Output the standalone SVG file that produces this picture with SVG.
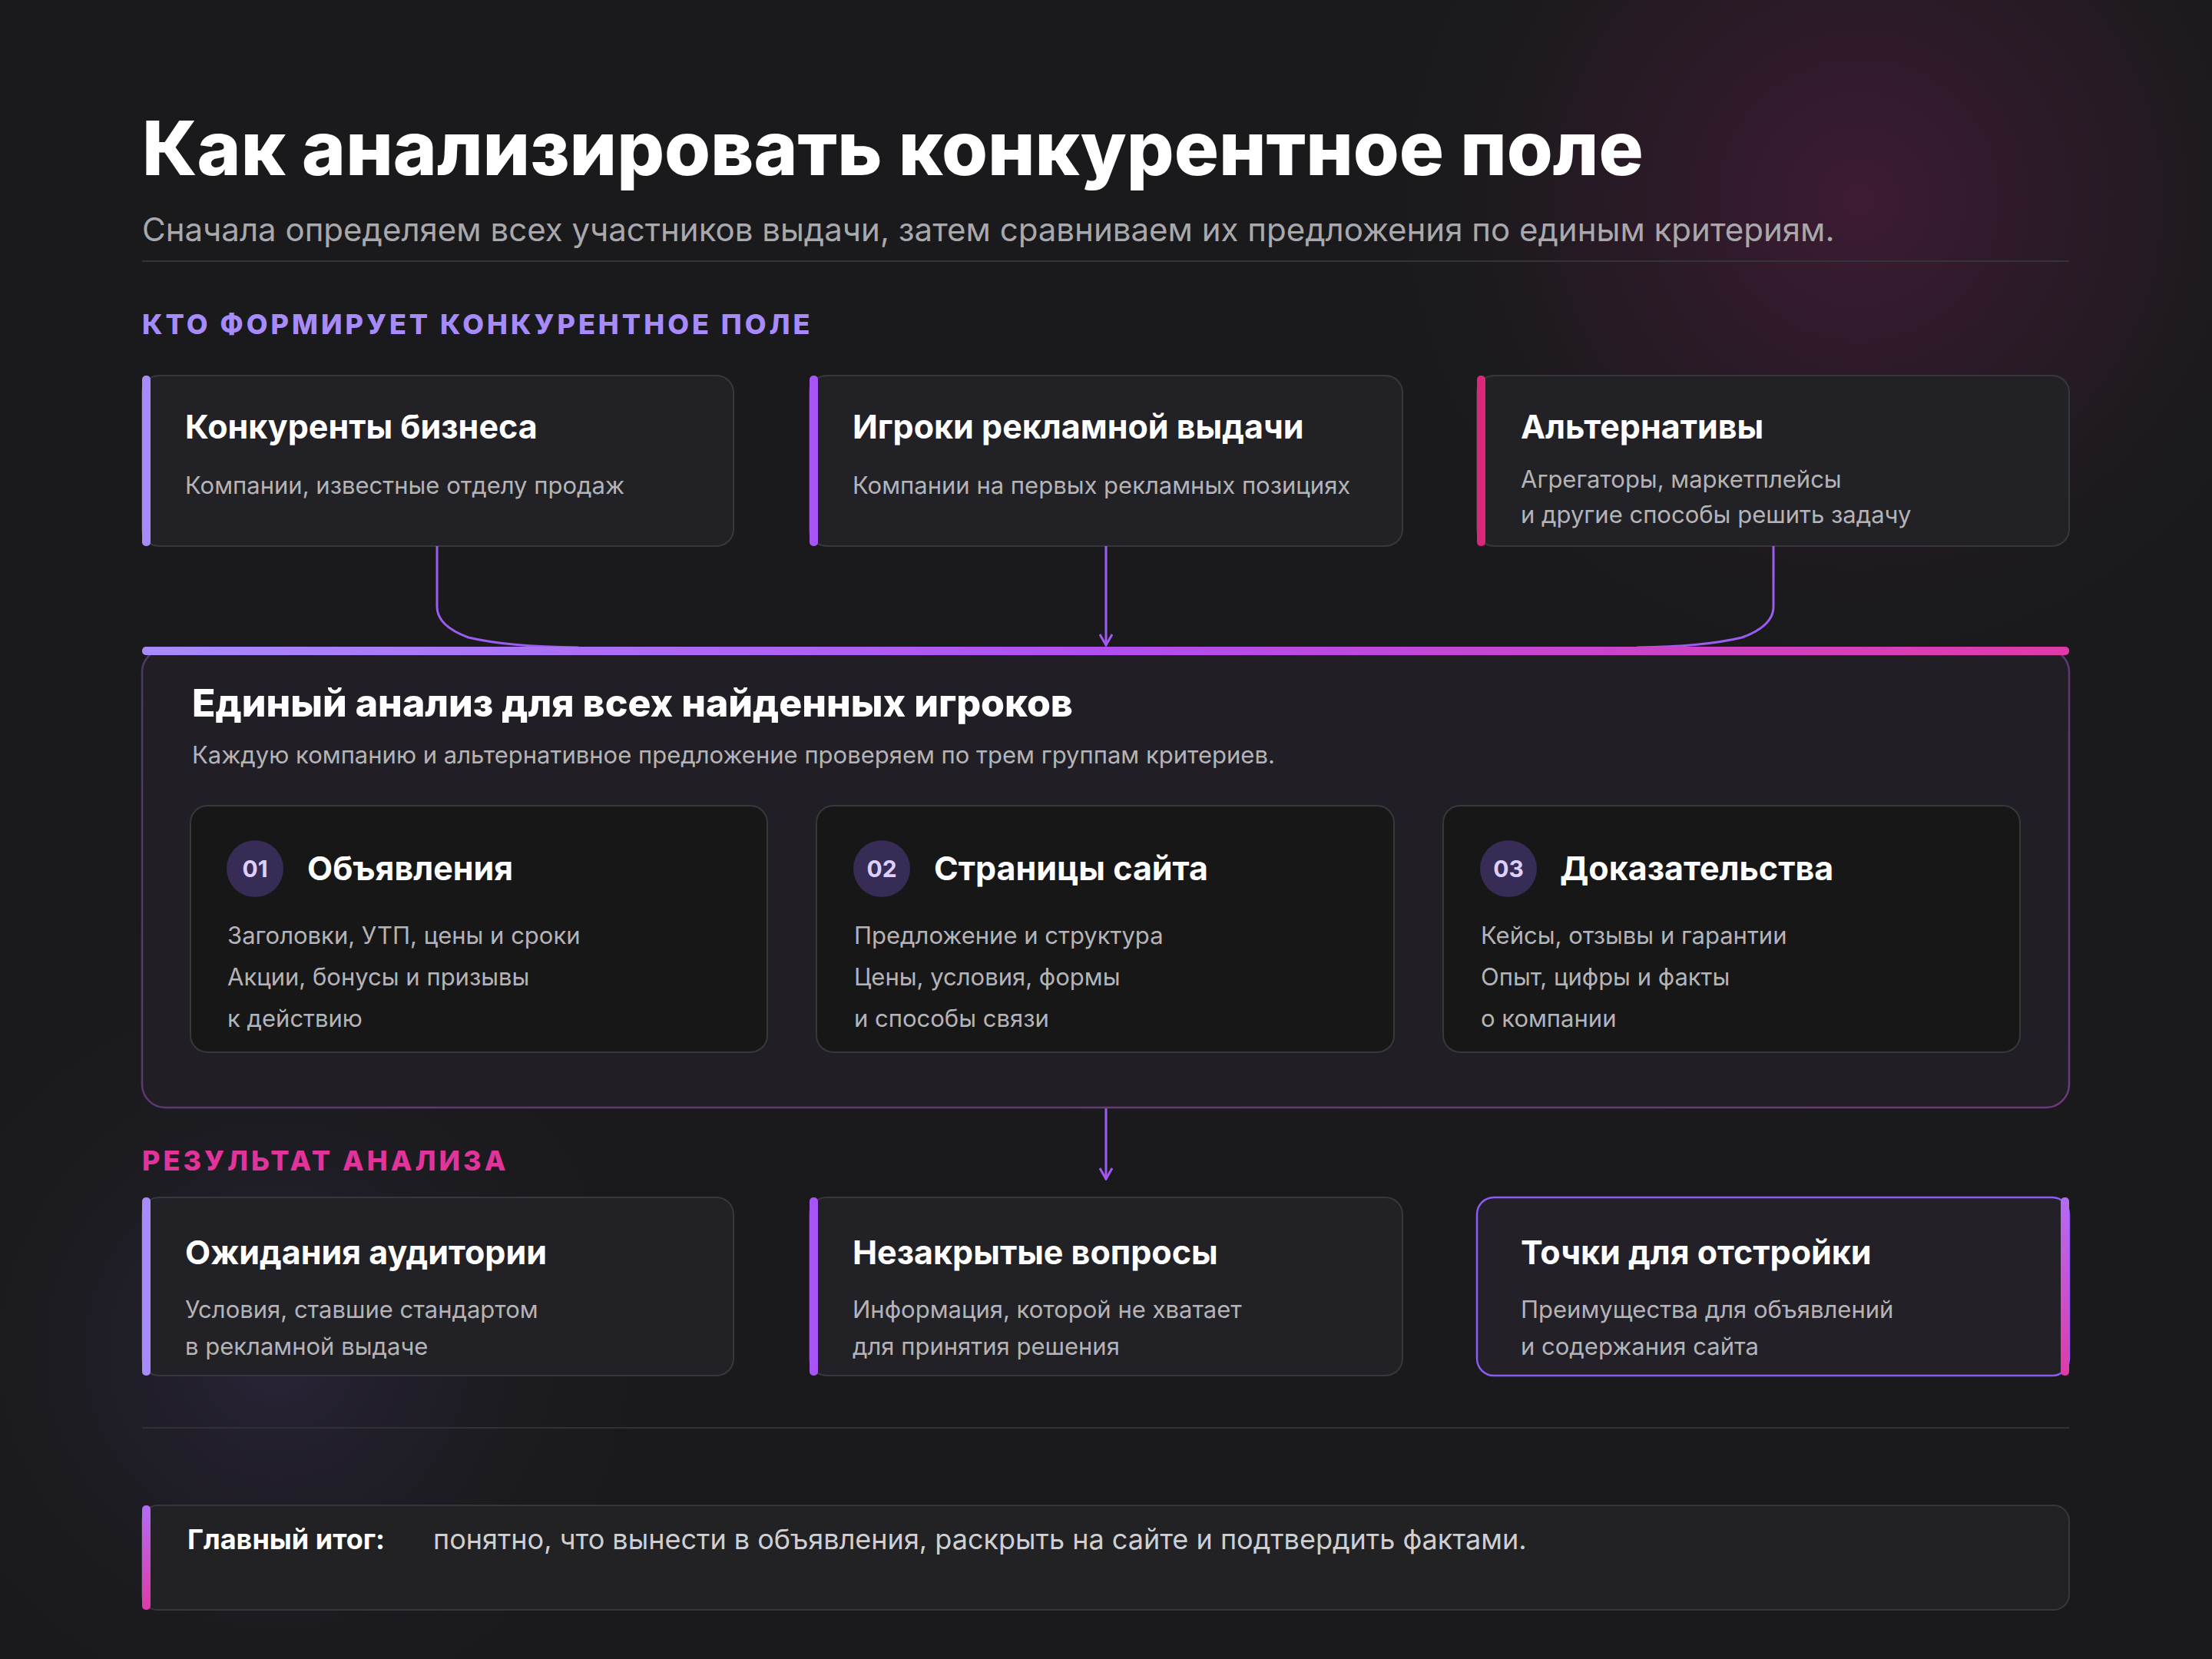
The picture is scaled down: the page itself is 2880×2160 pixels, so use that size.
<svg xmlns="http://www.w3.org/2000/svg" width="2880" height="2160" viewBox="0 0 2880 2160">
<defs>
<radialGradient id="glowPink" cx="0.5" cy="0.5" r="0.5"><stop offset="0" stop-color="#4a1c3c" stop-opacity="0.75"/><stop offset="0.6" stop-color="#3a1a32" stop-opacity="0.35"/><stop offset="1" stop-color="#1a1a1c" stop-opacity="0"/></radialGradient>
<radialGradient id="glowPurple" cx="0.5" cy="0.5" r="0.5"><stop offset="0" stop-color="#342a4d" stop-opacity="0.6"/><stop offset="1" stop-color="#1a1a1c" stop-opacity="0"/></radialGradient>
<linearGradient id="barH" x1="0" y1="0" x2="1" y2="0"><stop offset="0" stop-color="#a78bfa"/><stop offset="0.5" stop-color="#b14ef0"/><stop offset="1" stop-color="#e03aa8"/></linearGradient>
<linearGradient id="barV" x1="0" y1="0" x2="0" y2="1"><stop offset="0" stop-color="#b36cf5"/><stop offset="1" stop-color="#e03aa8"/></linearGradient>
<linearGradient id="bigBorder" x1="0" y1="0" x2="1" y2="1"><stop offset="0" stop-color="#4a3a66"/><stop offset="1" stop-color="#6a3a7a"/></linearGradient>
<marker id="arr" viewBox="0 0 20 20" refX="18" refY="10" markerWidth="20" markerHeight="20" markerUnits="userSpaceOnUse" orient="auto"><path d="M4 2 L18 10 L4 18" fill="none" stroke="#a855f7" stroke-width="3"/></marker>
</defs>
<style>
text{font-family:Inter,"Noto Sans","Liberation Sans",sans-serif}
.card{fill:#222126;stroke:#38373d;stroke-width:2}
.inner{fill:#171718;stroke:#38373d;stroke-width:2}
.ct{fill:#ffffff;font-size:43px;font-weight:700}
.cd{fill:#b4b4b8;font-size:31px}
.sec{font-size:36px;font-weight:800;letter-spacing:4px}
.conn{fill:none;stroke:#9b5cf0;stroke-width:3}
.num{fill:#ddd0ff;font-size:30px;font-weight:700}
</style>
<rect width="2880" height="2160" fill="#1a1a1c"/>
<circle cx="2420" cy="260" r="620" fill="url(#glowPink)"/>
<circle cx="360" cy="1760" r="520" fill="url(#glowPurple)"/>

<g id="header">
<text x="185" y="228" fill="#ffffff" font-size="97" font-weight="800">Как анализировать конкурентное поле</text>
<text x="185" y="314" fill="#a8a8ad" font-size="42">Сначала определяем всех участников выдачи, затем сравниваем их предложения по единым критериям.</text>
<line x1="185" y1="340" x2="2694" y2="340" stroke="#333338" stroke-width="2"/>
<text class="sec" x="185" y="435" fill="#a78bfa">КТО ФОРМИРУЕТ КОНКУРЕНТНОЕ ПОЛЕ</text>
</g>

<g id="card-competitors">
<rect class="card" x="185" y="489" width="770" height="222" rx="22"/>
<rect x="185" y="489" width="11" height="222" rx="5" fill="#a78bfa"/>
<text class="ct" x="241" y="571">Конкуренты бизнеса</text>
<text class="cd" x="241" y="643">Компании, известные отделу продаж</text>
</g>
<g id="card-ads">
<rect class="card" x="1054" y="489" width="772" height="222" rx="22"/>
<rect x="1054" y="489" width="11" height="222" rx="5" fill="#a855f7"/>
<text class="ct" x="1110" y="571">Игроки рекламной выдачи</text>
<text class="cd" x="1110" y="643">Компании на первых рекламных позициях</text>
</g>
<g id="card-alt">
<rect class="card" x="1923" y="489" width="771" height="222" rx="22"/>
<rect x="1923" y="489" width="11" height="222" rx="5" fill="#db2777"/>
<text class="ct" x="1980" y="571">Альтернативы</text>
<text class="cd" x="1980" y="635">Агрегаторы, маркетплейсы</text>
<text class="cd" x="1980" y="681">и другие способы решить задачу</text>
</g>

<g id="connectors">
<path class="conn" d="M569 711 V790 Q569 815 610 830 Q660 842 753 843"/>
<path class="conn" d="M1440 711 V840" marker-end="url(#arr)"/>
<path class="conn" d="M2309 711 V790 Q2309 815 2268 830 Q2218 842 2131 843"/>
<path class="conn" d="M1440 1442 V1535" marker-end="url(#arr)"/>
</g>

<g id="analysis">
<rect x="185" y="845" width="2509" height="597" rx="30" fill="#211f25" stroke="url(#bigBorder)" stroke-width="2.5"/>
<rect x="185" y="842" width="2509" height="11" rx="5" fill="url(#barH)"/>
<text x="250" y="933" fill="#ffffff" font-size="50" font-weight="800">Единый анализ для всех найденных игроков</text>
<text x="250" y="994" fill="#b4b4b8" font-size="31">Каждую компанию и альтернативное предложение проверяем по трем группам критериев.</text>
</g>
<g id="crit-ads">
<rect class="inner" x="248" y="1049" width="751" height="321" rx="22"/>
<circle cx="332" cy="1131" r="37" fill="#362c55"/>
<text class="num" x="332" y="1142" text-anchor="middle">01</text>
<text class="ct" x="400" y="1146">Объявления</text>
<text class="cd" x="296" y="1229">Заголовки, УТП, цены и сроки</text>
<text class="cd" x="296" y="1283">Акции, бонусы и призывы</text>
<text class="cd" x="296" y="1337">к действию</text>
</g>
<g id="crit-site">
<rect class="inner" x="1063" y="1049" width="752" height="321" rx="22"/>
<circle cx="1148" cy="1131" r="37" fill="#362c55"/>
<text class="num" x="1148" y="1142" text-anchor="middle">02</text>
<text class="ct" x="1216" y="1146">Страницы сайта</text>
<text class="cd" x="1112" y="1229">Предложение и структура</text>
<text class="cd" x="1112" y="1283">Цены, условия, формы</text>
<text class="cd" x="1112" y="1337">и способы связи</text>
</g>
<g id="crit-proof">
<rect class="inner" x="1879" y="1049" width="751" height="321" rx="22"/>
<circle cx="1964" cy="1131" r="37" fill="#362c55"/>
<text class="num" x="1964" y="1142" text-anchor="middle">03</text>
<text class="ct" x="2031" y="1146">Доказательства</text>
<text class="cd" x="1928" y="1229">Кейсы, отзывы и гарантии</text>
<text class="cd" x="1928" y="1283">Опыт, цифры и факты</text>
<text class="cd" x="1928" y="1337">о компании</text>
</g>

<text class="sec" x="185" y="1524" fill="#e0349a">РЕЗУЛЬТАТ АНАЛИЗА</text>

<g id="res-expect">
<rect class="card" x="185" y="1559" width="770" height="232" rx="22"/>
<rect x="185" y="1559" width="11" height="232" rx="5" fill="#a78bfa"/>
<text class="ct" x="241" y="1646">Ожидания аудитории</text>
<text class="cd" x="241" y="1716">Условия, ставшие стандартом</text>
<text class="cd" x="241" y="1764">в рекламной выдаче</text>
</g>
<g id="res-questions">
<rect class="card" x="1054" y="1559" width="772" height="232" rx="22"/>
<rect x="1054" y="1559" width="11" height="232" rx="5" fill="#a855f7"/>
<text class="ct" x="1110" y="1646">Незакрытые вопросы</text>
<text class="cd" x="1110" y="1716">Информация, которой не хватает</text>
<text class="cd" x="1110" y="1764">для принятия решения</text>
</g>
<g id="res-points">
<rect x="1923" y="1559" width="771" height="232" rx="22" fill="#232028" stroke="#8b5cf6" stroke-width="2.5"/>
<rect x="2683" y="1559" width="11" height="232" rx="5" fill="url(#barV)"/>
<text class="ct" x="1980" y="1646">Точки для отстройки</text>
<text class="cd" x="1980" y="1716">Преимущества для объявлений</text>
<text class="cd" x="1980" y="1764">и содержания сайта</text>
</g>

<line x1="185" y1="1859" x2="2694" y2="1859" stroke="#303035" stroke-width="2"/>

<g id="summary">
<rect x="185" y="1960" width="2509" height="136" rx="20" fill="#222225" stroke="#38373d" stroke-width="2"/>
<rect x="185" y="1960" width="11" height="136" rx="5" fill="url(#barV)"/>
<text x="244" y="2017" fill="#ffffff" font-size="36" font-weight="700">Главный итог:</text>
<text x="564" y="2017" fill="#cfcfd3" font-size="36">понятно, что вынести в объявления, раскрыть на сайте и подтвердить фактами.</text>
</g>
</svg>
